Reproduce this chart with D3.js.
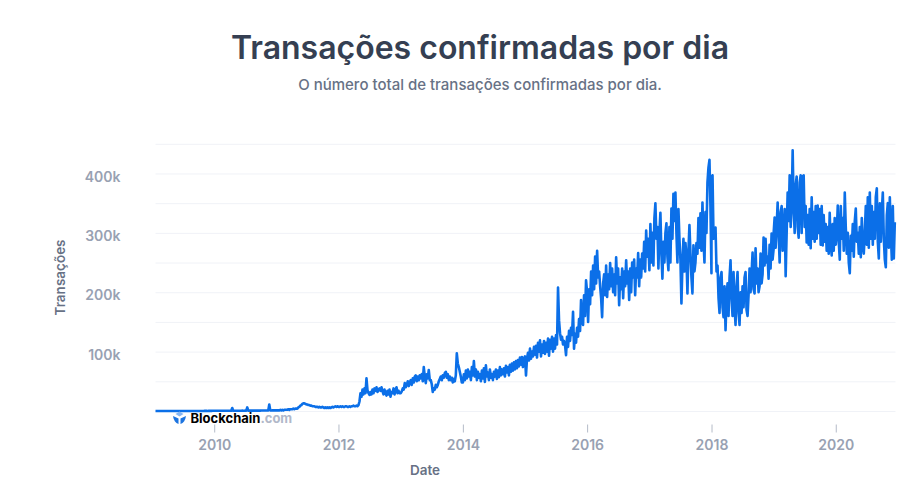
<!DOCTYPE html>
<html>
<head>
<meta charset="utf-8">
<script src="https://cdn.jsdelivr.net/npm/d3@7"></script>
<style>
  body { margin: 0; background: #fff; font-family: Inter, sans-serif; }
  text { font-family: Inter, sans-serif; }
</style>
</head>
<body>
<div id="chart"></div>
<script>
// confirmed transactions per day, in thousands (about one sample per 6 days)
var tx2009 = [0.1,0.1,0.1,0.1,0.1,0.1,0.1,0.1,0.1,0.1,
  0.1,0.1,0.1,0.1,0.1,0.1,0.1,0.1,0.1,0.1,
  0.1,0.1,0.1,0.1,0.1,0.1,0.1,0.1,0.1,0.1,
  0.1,0.1,0.1,0.1,0.1,0.1,0.1,0.1,0.1,0.1,
  0.1,0.1,0.1,0.1,0.1,0.1,0.1,0.1,0.1,0.2,
  0.2,0.2,0.1,0.2,0.2,0.2,0.2,0.3];
var tx2010 = [0.3,0.3,0.3,0.3,0.3,0.3,0.4,0.3,0.3,0.4,
  0.4,0.3,0.3,0.4,0.4,0.4,0.5,0.4,5,0.5,
  0.5,0.4,0.5,0.5,0.4,0.5,0.5,0.5,0.6,0.5,
  0.5,0.6,0.6,6,0.6,0.6,0.6,0.6,0.7,0.6,
  0.7,0.6,0.7,0.7,0.7,0.8,0.7,0.8,0.8,0.9,
  0.8,0.9,0.9,0.8,0.9,11,1,0.9,1,1,
  1,1];
var tx2011 = [1,1,1,1,2,1,2,1,2,2,
  2,2,3,2,3,3,3,4,3,4,
  4,4,6,7,9,10,12,13,13,12,
  11,11,10,10,9,9,8,8,8,7,
  7,7,6,7,6,6,7,6,5,6,
  5,6,5,6,5,6,7,6,7,8,7,8];
var tx2012 = [7,7,8,7,8,7,7,8,8,7,
  7,8,7,8,8,9,8,8,9,8,
  10,16,30,24,36,28,38,30,55,35,
  30,27,32,28,36,30,38,34,40,32,
  36,38,34,40,33,28,36,30,26,34,
  28,36,24,32,30,38,28,36,40,30,34,30];
var tx2013 = [30,33,38,36,47,40,44,50,42,48,
  52,44,55,48,58,60,50,58,52,60,
  55,62,50,74,58,47,62,55,69,52,
  52,45,32,38,36,44,40,44,50,54,
  58,52,60,56,64,66,56,62,52,58,
  52,56,48,54,50,60,97,80,74,66,58,48];
var tx2014 = [48,62,52,68,55,70,58,66,52,74,
  60,84,58,70,52,66,56,62,50,68,
  55,72,49,77,58,65,52,70,56,62,
  52,66,58,70,54,68,57,74,60,70,
  62,72,58,76,65,74,60,78,66,80,
  68,82,70,84,72,86,75,90,78,91,74,88];
var tx2015 = [92,60,88,98,85,105,88,100,92,108,
  95,110,90,115,100,119,92,112,98,118,
  96,115,100,122,93,120,105,125,100,122,
  105,128,112,208,153,131,120,125,112,118,
  111,94,125,108,135,118,140,128,167,105,
  130,115,140,125,155,135,187,150,145,195,160,220];
var tx2016 = [200,150,205,180,235,195,245,205,260,215,
  270,225,235,210,190,158,215,230,195,245,
  192,230,205,249,210,240,200,230,195,259,
  215,240,178,225,205,240,190,235,210,254,
  215,235,187,240,200,250,225,255,195,240,
  225,266,210,255,225,265,240,285,235,304,260,290];
var tx2017 = [237,315,250,300,245,325,350,290,310,240,
  300,334,265,223,285,250,300,316,260,237,
  310,250,341,290,366,320,368,300,250,340,
  290,255,181,247,290,235,283,260,198,270,
  313,265,225,198,279,235,250,283,265,325,
  275,333,270,351,290,250,335,300,385,410,423,343,232];
var tx2018 = [393,397,290,304,309,235,245,190,165,225,
  234,175,158,210,136,190,215,160,225,254,
  190,160,234,175,145,210,234,165,145,200,
  165,210,175,225,234,170,160,195,240,200,
  230,267,205,198,274,215,240,200,210,265,
  215,230,292,245,290,250,260,223,280,240,299,255,272];
var tx2019 = [300,326,275,310,351,300,250,335,345,270,
  300,340,227,300,368,320,397,310,345,439,
  345,300,380,395,310,292,385,397,300,395,
  397,310,345,284,330,280,340,274,360,290,
  335,285,345,290,346,300,340,280,345,279,
  330,285,315,270,310,265,334,280,262,315,270,325];
var tx2020 = [280,300,346,285,255,345,290,325,270,368,
  310,265,300,250,232,295,270,315,260,320,
  341,285,300,265,310,259,325,280,265,300,
  345,280,360,275,368,290,345,280,335,290,
  360,375,285,257,350,285,335,368,290,255,
  242,330,350,275,360,300,255,345,257,318];

var years = [2009,2010,2011,2012,2013,2014,2015,2016,2017,2018,2019,2020];
var yearValues = [tx2009,tx2010,tx2011,tx2012,tx2013,tx2014,tx2015,tx2016,tx2017,tx2018,tx2019,tx2020];
var yTickValues = [0,50,100,150,200,250,300,350,400,450];
var xTickYears = [2010,2012,2014,2016,2018,2020];

var firstDay = new Date(2009, 0, 21);
var lastDay = new Date(2020, 11, 17);
var daysPerSample = 365.25 / 62.1;

var points = [];
years.forEach(function(yr, k){
  var start = yr === 2009 ? firstDay : new Date(yr, 0, 1);
  yearValues[k].forEach(function(v, i){
    points.push({ date: d3.timeHour.offset(start, Math.round(i * daysPerSample * 24)), value: v });
  });
});

var svg = d3.select('#chart').append('svg')
  .attr('width', 903)
  .attr('height', 492);

var x = d3.scaleTime().domain([firstDay, lastDay]).range([155.5, 895.5]);
var y = d3.scaleLinear().domain([0, 450]).range([411, 143.8]);

svg.append('text')
  .attr('x', 480).attr('y', 59)
  .attr('text-anchor', 'middle')
  .attr('font-size', 32).attr('font-weight', 600)
  .attr('fill', '#353f52')
  .text('Transações confirmadas por dia');

svg.append('text')
  .attr('x', 480).attr('y', 90)
  .attr('text-anchor', 'middle')
  .attr('font-size', 15).attr('font-weight', 500)
  .attr('fill', '#677185')
  .text('O número total de transações confirmadas por dia.');

// gridlines + labels
var yAxis = d3.axisLeft(y)
  .tickValues(yTickValues)
  .tickSize(-740)
  .tickPadding(35)
  .tickFormat(function(d){ return d > 0 && d % 100 === 0 ? d + 'k' : ''; });

var yG = svg.append('g').attr('transform', 'translate(155.5,0)').call(yAxis);
yG.select('.domain').remove();
yG.selectAll('line').attr('stroke', '#f0f2f7');
yG.selectAll('text')
  .attr('dy', '0.55em')
  .attr('font-size', 14).attr('font-weight', 600)
  .attr('fill', '#98a1b2')
  .style('font-family', 'Inter, sans-serif');

var xAxis = d3.axisBottom(x)
  .tickValues(xTickYears.map(function(yr){ return new Date(yr, 0, 1); }))
  .tickSize(8)
  .tickPadding(8)
  .tickFormat(d3.timeFormat('%Y'));

var xG = svg.append('g').attr('transform', 'translate(0,424.5)').call(xAxis);
xG.select('.domain').remove();
xG.selectAll('line').attr('stroke', '#b4bbc8');
xG.selectAll('text')
  .attr('font-size', 14).attr('font-weight', 600)
  .attr('fill', '#98a1b2')
  .style('font-family', 'Inter, sans-serif');

svg.append('text')
  .attr('x', 425).attr('y', 475)
  .attr('text-anchor', 'middle')
  .attr('font-size', 13.5).attr('font-weight', 600)
  .attr('fill', '#677185')
  .text('Date');

svg.append('text')
  .attr('transform', 'translate(65,277.5) rotate(-90)')
  .attr('text-anchor', 'middle')
  .attr('font-size', 13.5).attr('font-weight', 600)
  .attr('fill', '#677185')
  .text('Transações');

var line = d3.line()
  .x(function(d){ return x(d.date); })
  .y(function(d){ return y(d.value); });

svg.append('path')
  .datum(points)
  .attr('fill', 'none')
  .attr('stroke', '#0b6fe8')
  .attr('stroke-width', 2.6)
  .attr('stroke-linejoin', 'round')
  .attr('d', line);

// Blockchain.com watermark
var logo = svg.append('g').attr('transform', 'translate(173,411)');
logo.append('path').attr('d', 'M6.5 0.5L10.5 3L6.5 5.5L2.5 3Z').attr('fill', '#85b5f2');
logo.append('path').attr('d', 'M0 5L5.5 7.5V13C2.5 12 0.5 9 0 5Z').attr('fill', '#1c74e0');
logo.append('path').attr('d', 'M13 5L7.5 7.5V13C10.5 12 12.5 9 13 5Z').attr('fill', '#1c74e0');

var mark = svg.append('text')
  .attr('x', 190.5).attr('y', 423)
  .attr('font-size', 13).attr('font-weight', 700);
mark.append('tspan').attr('fill', '#000').text('Blockchain');
mark.append('tspan').attr('fill', '#b1b8c9').text('.com');
</script>
</body>
</html>
